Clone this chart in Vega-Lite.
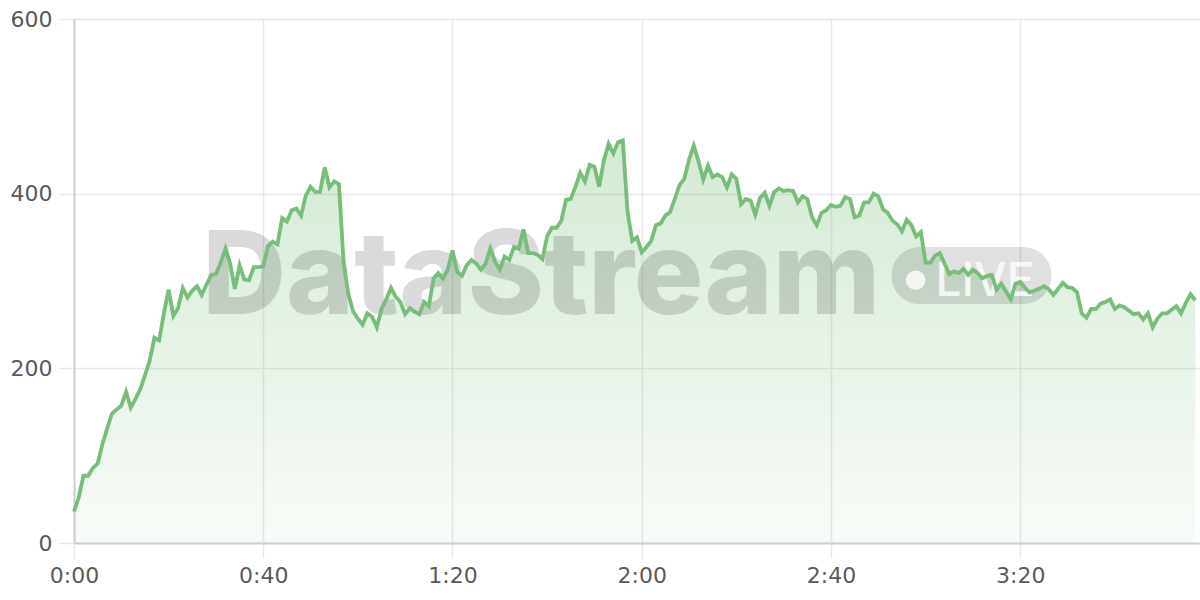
{
  "$schema": "https://vega.github.io/schema/vega-lite/v6.json",
  "width": 1126,
  "height": 524,
  "autosize": {"type": "none"},
  "padding": {"left": 74, "top": 19, "right": 0, "bottom": 57},
  "background": "white",
  "config": {"view": {"stroke": null}, "font": "DejaVu Sans"},
  "datasets": {
    "series": [
      {"t":0,"v":36},{"t":1,"v":52},{"t":2,"v":77},{"t":3,"v":77},{"t":4,"v":86},{"t":5,"v":91},{"t":6,"v":113},{"t":7,"v":131},{"t":8,"v":148},{"t":9,"v":153},
      {"t":10,"v":157},{"t":11,"v":173},{"t":12,"v":155},{"t":13,"v":165},{"t":14,"v":176},{"t":15,"v":192},{"t":16,"v":209},{"t":17,"v":235},{"t":18,"v":232},{"t":19,"v":263},
      {"t":20,"v":290},{"t":21,"v":260},{"t":22,"v":269},{"t":23,"v":292},{"t":24,"v":281},{"t":25,"v":289},{"t":26,"v":294},{"t":27,"v":284},{"t":28,"v":296},{"t":29,"v":307},
      {"t":30,"v":308},{"t":31,"v":321},{"t":32,"v":337},{"t":33,"v":320},{"t":34,"v":291},{"t":35,"v":318},{"t":36,"v":302},{"t":37,"v":301},{"t":38,"v":316},{"t":39,"v":316},
      {"t":40,"v":317},{"t":41,"v":340},{"t":42,"v":345},{"t":43,"v":342},{"t":44,"v":372},{"t":45,"v":368},{"t":46,"v":381},{"t":47,"v":383},{"t":48,"v":375},{"t":49,"v":398},
      {"t":50,"v":408},{"t":51,"v":402},{"t":52,"v":402},{"t":53,"v":430},{"t":54,"v":407},{"t":55,"v":414},{"t":56,"v":411},{"t":57,"v":320},{"t":58,"v":285},{"t":59,"v":265},
      {"t":60,"v":257},{"t":61,"v":250},{"t":62,"v":263},{"t":63,"v":259},{"t":64,"v":247},{"t":65,"v":268},{"t":66,"v":279},{"t":67,"v":292},{"t":68,"v":282},{"t":69,"v":276},
      {"t":70,"v":262},{"t":71,"v":269},{"t":72,"v":265},{"t":73,"v":262},{"t":74,"v":276},{"t":75,"v":271},{"t":76,"v":303},{"t":77,"v":309},{"t":78,"v":303},{"t":79,"v":313},
      {"t":80,"v":335},{"t":81,"v":310},{"t":82,"v":306},{"t":83,"v":318},{"t":84,"v":324},{"t":85,"v":320},{"t":86,"v":313},{"t":87,"v":320},{"t":88,"v":337},{"t":89,"v":322},
      {"t":90,"v":313},{"t":91,"v":328},{"t":92,"v":324},{"t":93,"v":339},{"t":94,"v":337},{"t":95,"v":359},{"t":96,"v":332},{"t":97,"v":332},{"t":98,"v":330},{"t":99,"v":325},
      {"t":100,"v":351},{"t":101,"v":361},{"t":102,"v":361},{"t":103,"v":369},{"t":104,"v":393},{"t":105,"v":394},{"t":106,"v":408},{"t":107,"v":424},{"t":108,"v":414},{"t":109,"v":433},
      {"t":110,"v":431},{"t":111,"v":408},{"t":112,"v":438},{"t":113,"v":457},{"t":114,"v":446},{"t":115,"v":459},{"t":116,"v":461},{"t":117,"v":379},{"t":118,"v":346},{"t":119,"v":350},
      {"t":120,"v":333},{"t":121,"v":339},{"t":122,"v":346},{"t":123,"v":364},{"t":124,"v":366},{"t":125,"v":375},{"t":126,"v":379},{"t":127,"v":394},{"t":128,"v":410},{"t":129,"v":417},
      {"t":130,"v":439},{"t":131,"v":455},{"t":132,"v":437},{"t":133,"v":416},{"t":134,"v":432},{"t":135,"v":419},{"t":136,"v":422},{"t":137,"v":419},{"t":138,"v":407},{"t":139,"v":422},
      {"t":140,"v":417},{"t":141,"v":388},{"t":142,"v":394},{"t":143,"v":392},{"t":144,"v":376},{"t":145,"v":395},{"t":146,"v":401},{"t":147,"v":386},{"t":148,"v":402},{"t":149,"v":406},
      {"t":150,"v":403},{"t":151,"v":404},{"t":152,"v":403},{"t":153,"v":390},{"t":154,"v":397},{"t":155,"v":394},{"t":156,"v":373},{"t":157,"v":364},{"t":158,"v":378},{"t":159,"v":381},
      {"t":160,"v":387},{"t":161,"v":385},{"t":162,"v":386},{"t":163,"v":396},{"t":164,"v":394},{"t":165,"v":373},{"t":166,"v":375},{"t":167,"v":390},{"t":168,"v":390},{"t":169,"v":400},
      {"t":170,"v":397},{"t":171,"v":382},{"t":172,"v":378},{"t":173,"v":369},{"t":174,"v":365},{"t":175,"v":357},{"t":176,"v":370},{"t":177,"v":364},{"t":178,"v":351},{"t":179,"v":356},
      {"t":180,"v":321},{"t":181,"v":321},{"t":182,"v":329},{"t":183,"v":332},{"t":184,"v":320},{"t":185,"v":308},{"t":186,"v":311},{"t":187,"v":309},{"t":188,"v":314},{"t":189,"v":307},
      {"t":190,"v":313},{"t":191,"v":309},{"t":192,"v":303},{"t":193,"v":306},{"t":194,"v":307},{"t":195,"v":290},{"t":196,"v":297},{"t":197,"v":288},{"t":198,"v":279},{"t":199,"v":297},
      {"t":200,"v":299},{"t":201,"v":292},{"t":202,"v":287},{"t":203,"v":289},{"t":204,"v":291},{"t":205,"v":294},{"t":206,"v":291},{"t":207,"v":284},{"t":208,"v":291},{"t":209,"v":298},
      {"t":210,"v":293},{"t":211,"v":292},{"t":212,"v":287},{"t":213,"v":263},{"t":214,"v":258},{"t":215,"v":268},{"t":216,"v":268},{"t":217,"v":274},{"t":218,"v":276},{"t":219,"v":279},
      {"t":220,"v":268},{"t":221,"v":272},{"t":222,"v":270},{"t":223,"v":266},{"t":224,"v":262},{"t":225,"v":263},{"t":226,"v":256},{"t":227,"v":263},{"t":228,"v":247},{"t":229,"v":257},
      {"t":230,"v":263},{"t":231,"v":263},{"t":232,"v":267},{"t":233,"v":271},{"t":234,"v":263},{"t":235,"v":275},{"t":236,"v":285},{"t":237,"v":278}
    ],
    "wm": [{"t": 27.1, "v": 262, "label": "DataStream"}],
    "pill": [{"t": 172.8, "t2": 206.6, "v": 339, "v2": 273.7}],
    "dot": [{"t": 177.9, "v": 301}],
    "live": [{"t": 182.1, "v": 282.8, "label": "LIVE"}]
  },
  "encoding": {
    "x": {
      "field": "t",
      "type": "quantitative",
      "scale": {"domain": [0, 238], "nice": false, "zero": false},
      "axis": {
        "title": null,
        "values": [0, 40, 80, 120, 160, 200],
        "labelExpr": "floor(datum.value/60) + ':' + (datum.value%60 < 10 ? '0' : '') + (datum.value%60)",
        "labelFlush": false,
        "labelOverlap": false,
        "grid": true,
        "gridColor": "#e8e8e8",
        "gridWidth": 1.5,
        "tickColor": "#e8e8e8",
        "tickWidth": 1.5,
        "tickSize": 15,
        "domainColor": "#cfcfcf",
        "domainWidth": 2,
        "labelFont": "DejaVu Sans",
        "labelFontSize": 22,
        "labelColor": "#5a5a5a",
        "labelPadding": 7
      }
    },
    "y": {
      "field": "v",
      "type": "quantitative",
      "scale": {"domain": [0, 600], "nice": false},
      "axis": {
        "title": null,
        "values": [0, 200, 400, 600],
        "labelFlush": false,
        "labelOverlap": false,
        "grid": true,
        "gridColor": "#e8e8e8",
        "gridWidth": 1.5,
        "tickColor": "#e8e8e8",
        "tickWidth": 1.5,
        "tickSize": 15,
        "domainColor": "#cfcfcf",
        "domainWidth": 2,
        "labelFont": "DejaVu Sans",
        "labelFontSize": 22,
        "labelColor": "#5a5a5a",
        "labelPadding": 7
      }
    }
  },
  "layer": [
    {
      "data": {"name": "series"},
      "mark": {
        "type": "area",
        "color": {
          "gradient": "linear",
          "x1": 0, "y1": 0, "x2": 0, "y2": 1,
          "stops": [
            {"offset": 0, "color": "rgba(120,190,122,0.32)"},
            {"offset": 1, "color": "rgba(120,190,122,0.05)"}
          ]
        }
      }
    },
    {
      "data": {"name": "wm"},
      "mark": {"type": "text", "font": "Inter", "fontSize": 116, "fontWeight": 800, "align": "left", "baseline": "alphabetic", "color": "#000000", "opacity": 0.14},
      "encoding": {"text": {"field": "label"}}
    },
    {
      "data": {"name": "pill"},
      "mark": {"type": "rect", "cornerRadius": 28, "color": "#000000", "opacity": 0.12},
      "encoding": {"x2": {"field": "t2"}, "y2": {"field": "v2"}}
    },
    {
      "data": {"name": "dot"},
      "mark": {"type": "point", "shape": "circle", "filled": true, "size": 380, "color": "#ffffff", "opacity": 0.8}
    },
    {
      "data": {"name": "live"},
      "mark": {"type": "text", "font": "Inter", "fontSize": 46, "fontWeight": 500, "align": "left", "baseline": "alphabetic", "color": "#ffffff", "opacity": 0.8},
      "encoding": {"text": {"field": "label"}}
    },
    {
      "data": {"name": "series"},
      "mark": {"type": "line", "color": "#78bd7a", "strokeWidth": 3.8, "strokeJoin": "miter"}
    }
  ]
}
